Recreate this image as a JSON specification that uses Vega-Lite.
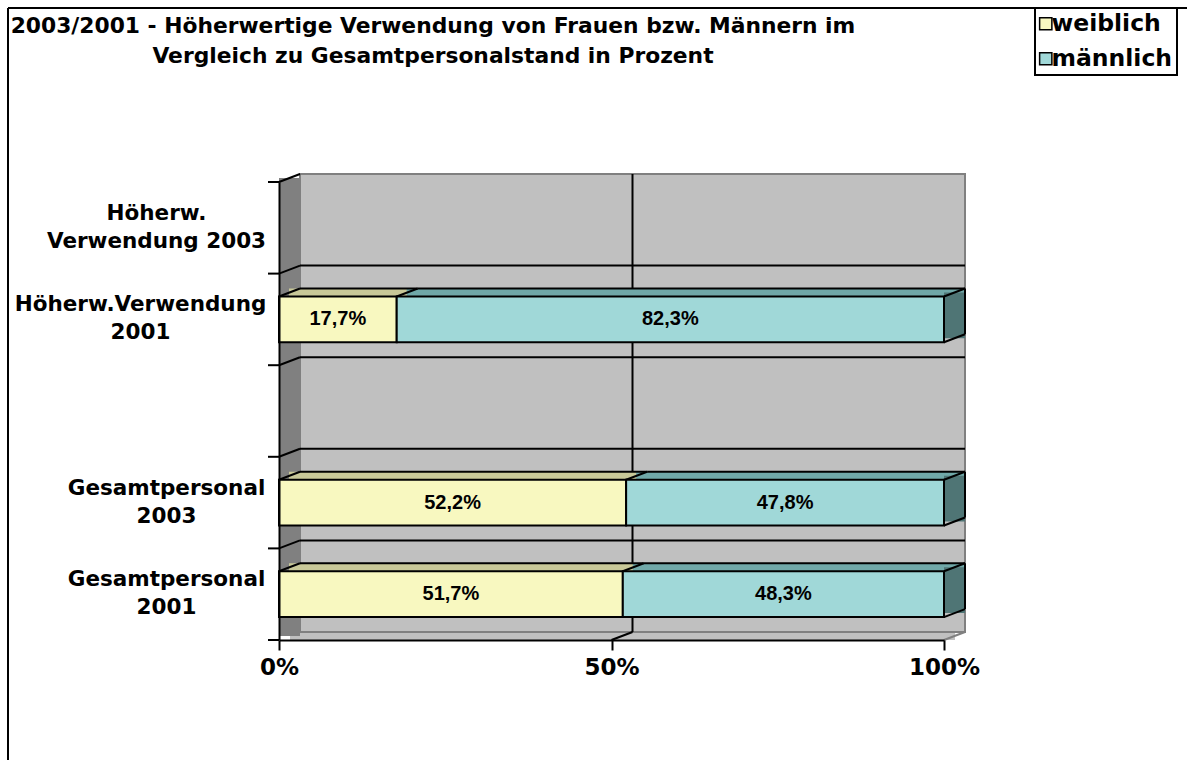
{
  "$schema": "https://vega.github.io/schema/vega-lite/v6.json",
  "width": 1179,
  "height": 752,
  "padding": {"left": 8, "top": 8, "right": 0, "bottom": 0},
  "autosize": {"type": "none"},
  "datasets": {
    "bars": [
      {"cat": "Höherw.Verwendung 2001", "sex": "weiblich", "value": 17.7},
      {"cat": "Höherw.Verwendung 2001", "sex": "männlich", "value": 82.3},
      {"cat": "Gesamtpersonal 2003", "sex": "weiblich", "value": 52.2},
      {"cat": "Gesamtpersonal 2003", "sex": "männlich", "value": 47.8},
      {"cat": "Gesamtpersonal 2001", "sex": "weiblich", "value": 51.7},
      {"cat": "Gesamtpersonal 2001", "sex": "männlich", "value": 48.3}
    ],
    "cats": [
      {"cat": "Höherw. Verwendung 2003"},
      {"cat": "Höherw.Verwendung 2001"},
      {"cat": " "},
      {"cat": "Gesamtpersonal 2003"},
      {"cat": "Gesamtpersonal 2001"}
    ],
    "one": [{"k": 1}]
  },
  "title": {
    "text": ["2003/2001 - Höherwertige Verwendung von Frauen bzw. Männern im", "Vergleich zu Gesamtpersonalstand in Prozent"],
    "anchor": "start",
    "align": "center",
    "dx": 425,
    "frame": "group",
    "orient": "top",
    "offset": -61,
    "font": "DejaVu Sans",
    "fontSize": 21.8,
    "fontWeight": "bold",
    "color": "black",
    "lineHeight": 30
  },
  "layer": [
    {
      "data": {"name": "one"},
      "mark": {"type": "rect", "fill": "#C0C0C0", "xOffset": 11, "x2Offset": 11, "yOffset": -8},
      "encoding": {
        "x": {"datum": 0, "type": "quantitative", "title": null,
          "scale": {"domain": [0, 100], "range": [271, 936], "nice": false, "zero": false},
          "axis": {"orient": "bottom", "offset": -120, "values": [0, 50, 100], "labelExpr": "datum.value + '%'",
            "domainColor": "black", "domainWidth": 2, "tickColor": "black", "tickWidth": 2, "tickSize": 10,
            "labelFont": "DejaVu Sans", "labelFontWeight": "bold", "labelFontSize": 23, "labelColor": "black",
            "labelFlush": false, "labelPadding": 6, "grid": false, "title": null, "zindex": 1}},
        "x2": {"datum": 100},
        "y": {"datum": "Gesamtpersonal 2001", "type": "nominal", "bandPosition": 1.5, "title": null,
          "scale": {"domain": ["Höherw. Verwendung 2003", "Höherw.Verwendung 2001", " ", "Gesamtpersonal 2003", "Gesamtpersonal 2001"], "range": [174, 632], "paddingInner": 0.5, "paddingOuter": 0.25},
          "axis": {"orient": "left", "offset": -271, "ticks": false, "domainColor": "black", "domainWidth": 2,
            "labelExpr": "datum.label == 'Höherw. Verwendung 2003' ? ['Höherw.', 'Verwendung 2003'] : [slice(datum.label, 0, lastindexof(datum.label, ' ')), slice(datum.label, lastindexof(datum.label, ' ') + 1)]",
            "labelAlign": "center", "labelBaseline": "middle",
            "labelPadding": {"condition": [
              {"test": "datum.value == 'Höherw. Verwendung 2003'", "value": 123},
              {"test": "datum.value == 'Höherw.Verwendung 2001'", "value": 139}
            ], "value": 113},
            "labelOffset": -14,
            "labelFont": "DejaVu Sans", "labelFontWeight": "bold", "labelFontSize": 21.5, "labelLineHeight": 28,
            "labelColor": "black", "labelLimit": 0, "labelOverlap": false, "grid": false, "title": null, "zindex": 1}},
        "y2": {"datum": "Gesamtpersonal 2001", "bandPosition": 1.5}
      }
    },
    {
      "data": {"name": "one"},
      "mark": {"type": "rect", "fill": "#C0C0C0", "stroke": "#808080", "strokeWidth": 2, "xOffset": 21, "x2Offset": 21, "yOffset": -8, "y2Offset": -8},
      "encoding": {
        "x": {"datum": 0, "type": "quantitative"},
        "x2": {"datum": 100},
        "y": {"datum": "Höherw. Verwendung 2003", "type": "nominal", "bandPosition": -0.5},
        "y2": {"datum": "Gesamtpersonal 2001", "bandPosition": 1.5}
      }
    },
    {
      "data": {"name": "one"},
      "mark": {"type": "rect", "fill": "#808080", "x2Offset": 21, "yOffset": -4, "y2Offset": -4},
      "encoding": {
        "x": {"datum": 0, "type": "quantitative"},
        "x2": {"datum": 0},
        "y": {"datum": "Höherw. Verwendung 2003", "type": "nominal", "bandPosition": -0.5},
        "y2": {"datum": "Gesamtpersonal 2001", "bandPosition": 1.5}
      }
    },
    {
      "data": {"name": "cats"},
      "transform": [{"filter": "datum.cat !== 'Höherw. Verwendung 2003'"}],
      "mark": {"type": "rule", "color": "black", "strokeWidth": 2, "xOffset": 21, "x2Offset": 21, "yOffset": -8},
      "encoding": {
        "x": {"datum": 0, "type": "quantitative"},
        "x2": {"datum": 100},
        "y": {"field": "cat", "type": "nominal", "bandPosition": -0.5}
      }
    },
    {
      "data": {"name": "one"},
      "mark": {"type": "rule", "color": "black", "strokeWidth": 2, "xOffset": 21, "yOffset": -8, "y2Offset": -8},
      "encoding": {
        "x": {"datum": 50, "type": "quantitative"},
        "y": {"datum": "Höherw. Verwendung 2003", "type": "nominal", "bandPosition": -0.5},
        "y2": {"datum": "Gesamtpersonal 2001", "bandPosition": 1.5}
      }
    },
    {
      "data": {"name": "cats"},
      "mark": {"type": "rule", "color": "black", "strokeWidth": 2, "xOffset": -11},
      "encoding": {
        "x": {"datum": 0, "type": "quantitative"},
        "x2": {"datum": 0},
        "y": {"field": "cat", "type": "nominal", "bandPosition": -0.5}
      }
    },
    {
      "data": {"name": "cats"},
      "mark": {"type": "rule", "color": "black", "strokeWidth": 2, "x2Offset": 21, "y2Offset": -8},
      "encoding": {
        "x": {"datum": 0, "type": "quantitative"},
        "x2": {"datum": 0},
        "y": {"field": "cat", "type": "nominal", "bandPosition": -0.5},
        "y2": {"field": "cat", "bandPosition": -0.5}
      }
    },
    {
      "data": {"name": "one"},
      "mark": {"type": "rule", "color": "black", "strokeWidth": 2, "xOffset": -11},
      "encoding": {
        "x": {"datum": 0, "type": "quantitative"},
        "x2": {"datum": 0},
        "y": {"datum": "Gesamtpersonal 2001", "type": "nominal", "bandPosition": 1.5}
      }
    },
    {
      "data": {"name": "one"},
      "mark": {"type": "rule", "color": "black", "strokeWidth": 2, "x2Offset": 21, "y2Offset": -8},
      "encoding": {
        "x": {"datum": 50, "type": "quantitative"},
        "x2": {"datum": 50},
        "y": {"datum": "Gesamtpersonal 2001", "type": "nominal", "bandPosition": 1.5},
        "y2": {"datum": "Gesamtpersonal 2001", "bandPosition": 1.5}
      }
    },
    {
      "data": {"name": "one"},
      "mark": {"type": "rule", "color": "#808080", "strokeWidth": 2, "x2Offset": 21, "y2Offset": -8},
      "encoding": {
        "x": {"datum": 100, "type": "quantitative"},
        "x2": {"datum": 100},
        "y": {"datum": "Gesamtpersonal 2001", "type": "nominal", "bandPosition": 1.5},
        "y2": {"datum": "Gesamtpersonal 2001", "bandPosition": 1.5}
      }
    },
    {
      "data": {"name": "bars"},
      "transform": [{"stack": "value", "groupby": ["cat"], "sort": [{"field": "sex", "order": "descending"}], "as": ["v0", "v1"]}],
      "layer": [
        {
          "mark": {"type": "rect", "xOffset": 10, "x2Offset": 21, "yOffset": -8},
          "encoding": {
            "x": {"field": "v0", "type": "quantitative", "title": null},
            "x2": {"field": "v1"},
            "y": {"field": "cat", "type": "nominal", "bandPosition": 0, "title": null},
            "y2": {"field": "cat", "bandPosition": 0},
            "fill": {"condition": {"test": "datum.sex === 'weiblich'", "value": "#C8C898"}, "value": "#70A8A8"}
          }
        },
        {
          "transform": [{"filter": "datum.sex === 'männlich'"}],
          "mark": {"type": "rect", "fill": "#4F7575", "x2Offset": 21, "yOffset": -4, "y2Offset": -4},
          "encoding": {
            "x": {"field": "v1", "type": "quantitative", "title": null},
            "x2": {"field": "v1"},
            "y": {"field": "cat", "type": "nominal", "bandPosition": 0, "title": null},
            "y2": {"field": "cat", "bandPosition": 1}
          }
        },
        {
          "mark": {"type": "rule", "color": "black", "strokeWidth": 2, "xOffset": 21, "x2Offset": 21, "yOffset": -8},
          "encoding": {
            "x": {"field": "v0", "type": "quantitative", "title": null},
            "x2": {"field": "v1"},
            "y": {"field": "cat", "type": "nominal", "bandPosition": 0, "title": null}
          }
        },
        {
          "mark": {"type": "rule", "color": "black", "strokeWidth": 2, "x2Offset": 21, "y2Offset": -8},
          "encoding": {
            "x": {"field": "v0", "type": "quantitative", "title": null},
            "x2": {"field": "v0"},
            "y": {"field": "cat", "type": "nominal", "bandPosition": 0, "title": null},
            "y2": {"field": "cat", "bandPosition": 0}
          }
        },
        {
          "transform": [{"filter": "datum.sex === 'männlich'"}],
          "mark": {"type": "rule", "color": "black", "strokeWidth": 2, "x2Offset": 21, "y2Offset": -8},
          "encoding": {
            "x": {"field": "v1", "type": "quantitative", "title": null},
            "x2": {"field": "v1"},
            "y": {"field": "cat", "type": "nominal", "bandPosition": 0, "title": null},
            "y2": {"field": "cat", "bandPosition": 0}
          }
        },
        {
          "transform": [{"filter": "datum.sex === 'männlich'"}],
          "mark": {"type": "rule", "color": "black", "strokeWidth": 2, "x2Offset": 21, "y2Offset": -8},
          "encoding": {
            "x": {"field": "v1", "type": "quantitative", "title": null},
            "x2": {"field": "v1"},
            "y": {"field": "cat", "type": "nominal", "bandPosition": 1, "title": null},
            "y2": {"field": "cat", "bandPosition": 1}
          }
        },
        {
          "transform": [{"filter": "datum.sex === 'männlich'"}],
          "mark": {"type": "rule", "color": "black", "strokeWidth": 2, "xOffset": 21, "yOffset": -8, "y2Offset": -8},
          "encoding": {
            "x": {"field": "v1", "type": "quantitative", "title": null},
            "y": {"field": "cat", "type": "nominal", "bandPosition": 0, "title": null},
            "y2": {"field": "cat", "bandPosition": 1}
          }
        },
        {
          "mark": {"type": "bar", "stroke": "black", "strokeWidth": 2},
          "encoding": {
            "x": {"field": "v0", "type": "quantitative", "title": null},
            "x2": {"field": "v1"},
            "y": {"field": "cat", "type": "nominal", "title": null},
            "color": {"field": "sex", "type": "nominal",
              "scale": {"domain": ["weiblich", "männlich"], "range": ["#F8F8C0", "#A0D8D8"]},
              "legend": {"title": null, "orient": "none", "legendX": 1027, "legendY": 0,
                "symbolType": "square", "symbolSize": 150, "symbolStrokeColor": "black", "symbolStrokeWidth": 1.5,
                "symbolOffset": -5,
                "labelFont": "DejaVu Sans", "labelFontWeight": "bold", "labelFontSize": 23.5, "labelColor": "black",
                "labelOffset": -6, "padding": 4, "rowPadding": 10, "strokeColor": "black", "fillColor": "white"}}
          }
        },
        {
          "mark": {"type": "text", "font": "Liberation Sans", "fontWeight": "bold", "fontSize": 20, "color": "black",
            "text": {"expr": "replace(format(datum.value, '.1f'), '.', ',') + '%'"}},
          "encoding": {
            "x": {"field": "value", "type": "quantitative", "stack": "zero", "bandPosition": 0.5, "title": null},
            "y": {"field": "cat", "type": "nominal", "title": null},
            "detail": {"field": "sex"},
            "order": {"field": "sex", "sort": "descending"}
          }
        }
      ]
    }
  ],
  "config": {
    "view": {"stroke": "black", "strokeWidth": 2, "strokeDash": [1179, 1931, 752, 0], "fill": "white"},
    "legend": {"strokeWidth": 2},
    "background": "white"
  }
}
